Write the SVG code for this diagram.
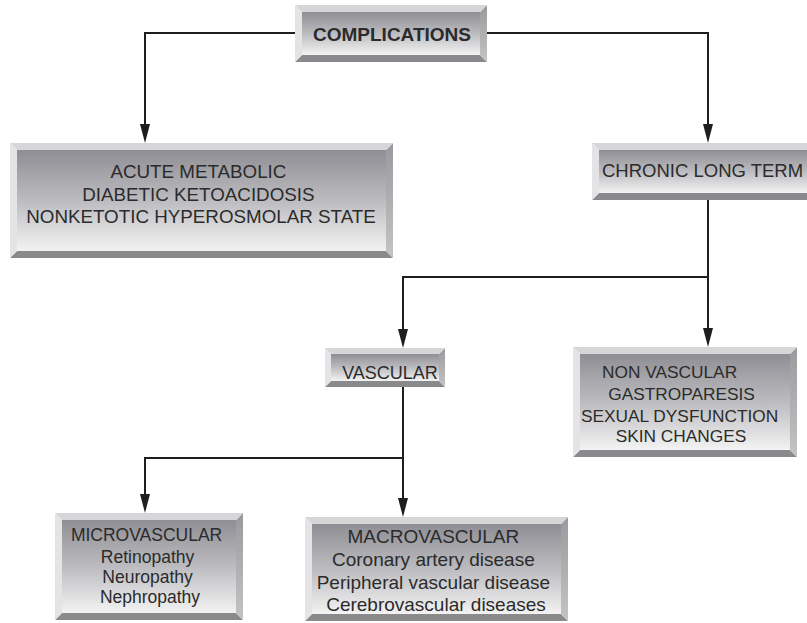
<svg xmlns="http://www.w3.org/2000/svg" width="807" height="623" viewBox="0 0 807 623">
<defs>
<linearGradient id="face" x1="0" y1="0" x2="0" y2="1">
<stop offset="0" stop-color="#8e8e94"/>
<stop offset="0.5" stop-color="#bcbcc0"/>
<stop offset="1" stop-color="#f3f3f3"/>
</linearGradient>
<linearGradient id="rside" x1="0" y1="0" x2="0" y2="1">
<stop offset="0" stop-color="#9a9a9e"/>
<stop offset="1" stop-color="#c4c4c4"/>
</linearGradient>
<marker id="ah" markerUnits="userSpaceOnUse" markerWidth="20" markerHeight="10" refX="15" refY="5" orient="auto">
<path d="M0,0 L19,5 L0,10 Z" fill="#1e1e1e"/>
</marker>
</defs>
<style>
.top{fill:#d6d6d8}
.left{fill:#e4e4e6}
.right{fill:url(#rside)}
.bot{fill:#8a8a8c}
.face{fill:url(#face)}
.conn{fill:none;stroke:#1e1e1e;stroke-width:2;marker-end:url(#ah)}
text{font-family:"Liberation Sans",Arial,Helvetica,sans-serif;fill:#2b2b2b;text-anchor:middle}
</style>
<rect width="807" height="623" fill="#ffffff"/>

<g id="connectors">
<path class="conn" d="M295,33 H145 V139"/>
<path class="conn" d="M487,33 H708 V139"/>
<path class="conn" d="M708,200 V343"/>
<path class="conn" d="M708,277 H403 V344"/>
<path class="conn" d="M403,387 V513"/>
<path class="conn" d="M403,458 H145 V509"/>
</g>

<g id="complications">
<polygon class="bot" points="295,62 487,62 480,55 302,55"/>
<polygon class="right" points="487,5 487,62 480,55 480,12"/>
<polygon class="top" points="295,5 487,5 480,12 302,12"/>
<polygon class="left" points="295,5 302,12 302,55 295,62"/>
<rect class="face" x="302" y="12" width="178" height="43"/>
<text x="392" y="41" font-size="19" font-weight="bold" fill="#222">COMPLICATIONS</text>
</g>

<g id="acute">
<polygon class="bot" points="10,258 393,258 386,251 17,251"/>
<polygon class="right" points="393,143 393,258 386,251 386,150"/>
<polygon class="top" points="10,143 393,143 386,150 17,150"/>
<polygon class="left" points="10,143 17,150 17,251 10,258"/>
<rect class="face" x="17" y="150" width="369" height="101"/>
<text font-size="18.8">
<tspan x="201" y="178">ACUTE METABOLIC</tspan>
<tspan x="201" y="201">DIABETIC KETOACIDOSIS</tspan>
<tspan x="201" y="223">NONKETOTIC HYPEROSMOLAR STATE</tspan>
</text>
</g>

<g id="chronic">
<polygon class="bot" points="592,200 816,200 809,193 599,193"/>
<polygon class="top" points="592,143 816,143 809,150 599,150"/>
<polygon class="left" points="592,143 599,150 599,193 592,200"/>
<rect class="face" x="599" y="150" width="210" height="43"/>
<text x="602" y="177" font-size="18.5" style="text-anchor:start">CHRONIC LONG TERM</text>
</g>

<g id="vascular">
<polygon class="bot" points="325,387 445,387 439,381 331,381"/>
<polygon class="right" points="445,348 445,387 439,381 439,354"/>
<polygon class="top" points="325,348 445,348 439,354 331,354"/>
<polygon class="left" points="325,348 331,354 331,381 325,387"/>
<rect class="face" x="331" y="354" width="108" height="27"/>
<text x="390" y="379" font-size="18">VASCULAR</text>
</g>

<g id="nonvascular">
<polygon class="bot" points="573,457 797,457 790,450 580,450"/>
<polygon class="right" points="797,347 797,457 790,450 790,354"/>
<polygon class="top" points="573,347 797,347 790,354 580,354"/>
<polygon class="left" points="573,347 580,354 580,450 573,457"/>
<rect class="face" x="580" y="354" width="210" height="96"/>
<text font-size="17.3">
<tspan x="672" y="378">NON VASCULAR</tspan>
<tspan x="684" y="400">GASTROPARESIS</tspan>
<tspan x="682" y="422">SEXUAL DYSFUNCTION</tspan>
<tspan x="681" y="442">SKIN CHANGES</tspan>
</text>
</g>

<g id="microvascular">
<polygon class="bot" points="55,620 243,620 236,613 62,613"/>
<polygon class="right" points="243,513 243,620 236,613 236,520"/>
<polygon class="top" points="55,513 243,513 236,520 62,520"/>
<polygon class="left" points="55,513 62,520 62,613 55,620"/>
<rect class="face" x="62" y="520" width="174" height="93"/>
<text font-size="17.5">
<tspan x="149" y="541">MICROVASCULAR</tspan>
<tspan x="150" y="563">Retinopathy</tspan>
<tspan x="150" y="583">Neuropathy</tspan>
<tspan x="150" y="603">Nephropathy</tspan>
</text>
</g>

<g id="macrovascular">
<polygon class="bot" points="305,621 568,621 561,614 312,614"/>
<polygon class="right" points="568,517 568,621 561,614 561,524"/>
<polygon class="top" points="305,517 568,517 561,524 312,524"/>
<polygon class="left" points="305,517 312,524 312,614 305,621"/>
<rect class="face" x="312" y="524" width="249" height="90"/>
<text font-size="19">
<tspan x="436" y="543">MACROVASCULAR</tspan>
<tspan x="436" y="566">Coronary artery disease</tspan>
<tspan x="436" y="589">Peripheral vascular disease</tspan>
<tspan x="436" y="611">Cerebrovascular diseases</tspan>
</text>
</g>
</svg>
